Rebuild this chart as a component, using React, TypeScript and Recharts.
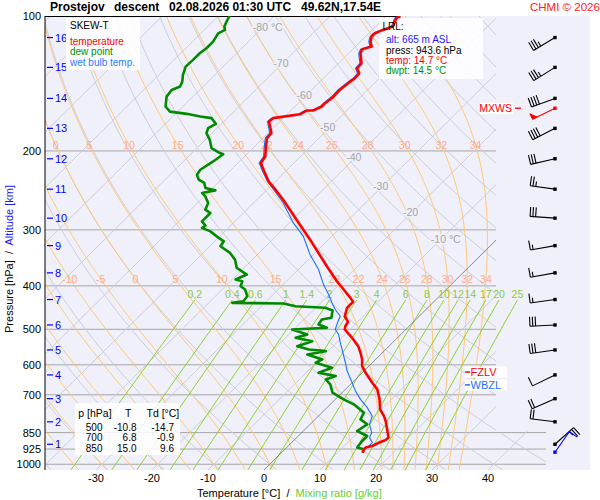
import React from 'react';
import { ComposedChart, Line, Scatter, XAxis, YAxis, CartesianGrid } from 'recharts';

const FONT = '"Liberation Sans", Arial, Helvetica, sans-serif';

// ---------------- sounding data ----------------
const tempP = [100, 101.2, 105.6, 107.4, 109.3, 111.2, 114.1, 117.0, 118.6, 121.1,
  127.5, 130.8, 134.2, 137.6, 141.2, 146.2, 151.3, 156.5, 159.2, 162.5,
  162.5, 165.7, 169.0, 172.0, 182.5, 187.2, 197.1, 205.7, 212.8, 220.3,
  233.9, 244.0, 256.9, 284.7, 315.4, 361.7, 390.6, 407.6, 425.4, 434.2,
  440.2, 447.7, 467.5, 481.1, 492.1, 500.5, 522.2, 545.2, 564.0, 583.7,
  604.1, 624.9, 657.8, 680.8, 698.4, 716.6, 754.3, 780.7, 800.9, 828.5,
  872.1, 884.2, 894.7, 910.4, 917.9, 929.3, 942.7];
const tempT = [-57.5, -57.8, -56.9, -58.1, -58.9, -58.9, -58.2, -57.1, -58.3, -57.9,
  -55.9, -55.8, -54.5, -54.4, -54.7, -55.0, -54.9, -55.2, -55.2, -56.0,
  -57.2, -57.7, -61.8, -61.9, -59.4, -59.3, -57.7, -56.3, -55.9, -54.2,
  -51.2, -48.5, -45.3, -39.3, -33.3, -25.5, -21.0, -18.3, -15.6, -14.4,
  -14.4, -14.4, -13.3, -11.7, -11.4, -10.9, -8.1, -5.5, -3.9, -2.4,
  -1.2, 0.6, 3.6, 5.7, 6.8, 7.9, 9.8, 11.7, 12.9, 14.3,
  16.4, 16.3, 15.6, 15.0, 14.1, 14.1, 14.6];

const wetP = [100, 101.2, 105.6, 107.4, 109.3, 111.2, 114.1, 117.0, 118.6, 121.1,
  127.5, 130.8, 134.2, 137.6, 141.2, 146.2, 151.3, 156.5, 159.2, 162.5,
  162.5, 165.7, 169.0, 172.0, 182.5, 187.2, 197.1, 205.7, 212.8, 220.3,
  233.9, 244.0, 261.3, 289.5, 310.1, 340.7, 367.8, 397.3, 418.2, 436.4,
  451.7, 467.5, 479.6, 500.5, 513.5, 535.8, 559.4, 593.7, 619.4, 652.4,
  686.7, 716.6, 747.7, 780.7, 814.6, 850.0, 872.1, 894.7, 910.4, 926.0, 942.7];
const wetT = [-57.8, -58.1, -57.2, -58.4, -59.2, -59.2, -58.5, -57.4, -58.6, -58.2,
  -56.2, -56.1, -54.8, -54.7, -55.0, -55.3, -55.2, -55.5, -55.5, -56.3,
  -57.5, -58.0, -62.1, -62.2, -59.7, -59.6, -58.0, -56.6, -56.2, -54.5,
  -51.4, -48.8, -44.7, -39.3, -35.1, -30.6, -26.4, -22.8, -20.1, -18.0,
  -16.2, -14.1, -13.6, -12.6, -11.1, -9.3, -7.4, -4.8, -3.0, -0.4,
  2.1, 4.5, 7.2, 9.6, 10.6, 12.5, 13.0, 14.4, 14.4, 14.1, 14.6];

const dewP = [100, 103.0, 105.6, 107.4, 109.3, 114.1, 118.0, 121.1, 125.3, 129.7,
  135.3, 140.1, 143.7, 146.2, 151.3, 159.2, 163.4, 165.3, 167.6, 169.0,
  174.0, 177.9, 182.5, 188.9, 197.1, 202.2, 203.4, 211.1, 220.3, 226.0,
  231.8, 235.8, 241.9, 244.9, 248.2, 252.6, 261.3, 270.5, 275.1, 287.2,
  293.6, 297.0, 302.3, 312.7, 318.2, 326.4, 337.7, 349.5, 364.7, 377.4,
  387.2, 390.6, 400.8, 407.6, 421.9, 432.8, 436.4, 438.0, 444.1, 447.7,
  454.0, 471.3, 475.4, 487.8, 496.1, 500.5, 513.5, 522.2, 531.4, 545.2,
  554.5, 559.4, 568.9, 583.7, 593.7, 609.1, 624.9, 635.9, 646.7, 663.5,
  692.4, 716.6, 735.2, 767.2, 794.0, 814.6, 843.1, 864.9, 887.4, 917.9, 926.0, 942.7];
const dewT = [-88.0, -87.5, -87.0, -86.3, -86.9, -86.3, -86.3, -86.6, -86.6, -86.7,
  -85.7, -84.6, -84.1, -85.0, -84.7, -83.1, -81.4, -78.0, -75.1, -72.8,
  -71.0, -71.6, -71.0, -69.2, -67.4, -65.0, -64.2, -64.7, -65.5, -65.2,
  -64.0, -62.4, -61.3, -59.1, -61.0, -59.8, -58.1, -57.4, -55.9, -55.9,
  -54.5, -54.7, -52.6, -49.9, -48.4, -48.1, -45.2, -43.1, -41.3, -38.3,
  -39.4, -37.9, -37.3, -35.9, -34.3, -34.1, -35.8, -26.5, -23.9, -18.3,
  -16.5, -15.4, -16.8, -16.5, -14.4, -20.3, -16.7, -18.2, -14.6, -16.4,
  -13.7, -10.4, -13.1, -9.5, -10.1, -6.3, -7.8, -4.1, -5.3, -3.6,
  -1.7, 1.5, 4.2, 7.5, 8.1, 10.2, 9.6, 12.3, 12.3, 12.6, 14.1, 14.5];

const pressureTicks = [100, 200, 300, 400, 500, 600, 700, 850, 925, 1000];
const temperatureTicks = [-30, -20, -10, 0, 10, 20, 30, 40];

const altitudeKm = [1, 2, 3, 4, 5, 6, 7, 8, 9, 10, 11, 12, 13, 14, 15, 16];
const altitudeP = [902.5, 804.2, 714.0, 632.0, 555.9, 489.0, 429.1, 374.1, 325.3, 282.5, 243.4, 208.2, 178.1, 152.7, 130.2, 111.7];
const windDir = [48, 277, 246, 244, 262, 267, 262, 260, 260, 274, 278, 257, 243, 250, 238, 239];
const windSpd = [25, 20, 20, 10, 30, 30, 15, 15, 15, 30, 25, 30, 40, 40, 35, 35];
const maxWind = { p: 160.6, dir: 244, spd: 50 };
const surfaceWind = { p: 940, dir: 35, spd: 10 };

const freezingLevelP = 622.7;
const wetBulbZeroP = 665.2;

const isothermLabelT = [-80, -70, -60, -50, -40, -30, -20, -10];
const isothermLabelP = [106, 127, 150, 177, 206, 239, 273, 315];
const moistThetaW = [-35, -30, -25, -20, -15, -10, -5, 0, 5, 10, 15, 20, 22, 24, 26, 28, 30, 32, 34];
const moistLabelLevels = [194, 386];
const mixingRatios = [0.2, 0.4, 0.6, 1, 1.4, 2, 3, 4, 6, 8, 10, 12, 14, 17, 20, 25];

const tableLevels = [500, 700, 850];
const tableT = [-10.8, 6.8, 15.0];
const tableTd = [-14.7, -0.9, 9.6];
const lrlAlt = 665;
const lrlPress = 943.6;
const lrlTemp = 14.7;
const lrlDwpt = 14.5;

// ---------------- diagram geometry ----------------
const SKEW = 80.8;
const P_REF = 1030;
const P_TOP = 100;
const P_BOTTOM = 1030;
const X_MIN = -39.107;
const X_MAX = 58.214;
const X_DIAGRAM = 41.43;
const X_DIAGRAM_LOW = 50.36;
const P_LOW = 850;
const MIX_TOP = 430;
const MIX_LABEL_P = 417;
const BARB_X = 51.96;
const LEVEL_LABEL_X = 35.9;

const PANEL_BG = '#f0f0fa';
const GRID_GRAY = '#cdcdd6';
const MOIST_COL = '#ffc878';
const MIX_COL = '#8fd12e';

const skewX = (T: number, p: number) => T + SKEW * Math.log10(P_REF / p);

const RD = 287.04, CP = 1005.7, LV = 2.501e6, EPS = 0.622;
const satVap = (Tc: number) => 6.112 * Math.exp((17.67 * Tc) / (Tc + 243.5));
function moistRate(Tk: number, p: number) {
  const e = satVap(Tk - 273.15);
  const rs = (EPS * e) / (p - e);
  return (RD * Tk + LV * rs) / (p * (CP + (LV * LV * rs * EPS) / (RD * Tk * Tk)));
}
function moistTemp(thetaW: number, pTarget: number) {
  let T = thetaW + 273.15;
  let p = 1000;
  const n = Math.max(1, Math.ceil(Math.abs(pTarget - p) / 4));
  const h = (pTarget - p) / n;
  for (let i = 0; i < n; i++) {
    const k1 = moistRate(T, p);
    const k2 = moistRate(T + 0.5 * h * k1, p + 0.5 * h);
    const k3 = moistRate(T + 0.5 * h * k2, p + 0.5 * h);
    const k4 = moistRate(T + h * k3, p + h);
    T += (h / 6) * (k1 + 2 * k2 + 2 * k3 + k4);
    p += h;
  }
  return T - 273.15;
}
const dryTemp = (theta: number, p: number) => (theta + 273.15) * Math.pow(p / 1000, RD / CP) - 273.15;
const mixDew = (r: number, p: number) => {
  const w = r / 1000;
  const e = (w * p) / (EPS + w);
  const l = Math.log(e / 6.112);
  return (243.5 * l) / (17.67 - l);
};

const N = 150;
const P_GRID = Array.from({ length: N + 1 }, (_, i) => P_TOP * Math.pow(P_BOTTOM / P_TOP, i / N));

type Pt = { x: number; p: number | null };
const limitAt = (p: number) => (p >= P_LOW ? X_DIAGRAM_LOW : X_DIAGRAM);
function clipRight(raw: { x: number; p: number }[]): Pt[] {
  const out: Pt[] = [];
  for (let i = 0; i < raw.length; i++) {
    const c = raw[i];
    const inC = c.x <= limitAt(c.p);
    if (i > 0) {
      const a = raw[i - 1];
      const inA = a.x <= limitAt(a.p);
      if (inA !== inC) {
        const L = limitAt(inA ? a.p : c.p);
        const d = c.x - a.x;
        let t = d === 0 ? 0.5 : (L - a.x) / d;
        t = Math.max(0, Math.min(1, t));
        out.push({ x: a.x + t * d, p: a.p + t * (c.p - a.p) });
      }
    }
    out.push(inC ? { x: c.x, p: c.p } : { x: c.x, p: null });
  }
  return out;
}
const curve = (f: (p: number) => number) => clipRight(P_GRID.map((p) => ({ x: skewX(f(p), p), p })));

const isothermValues: number[] = [];
for (let t = -120; t <= 40; t += 10) if (t !== 0) isothermValues.push(t);
const isothermLines = isothermValues.map((t) => curve(() => t));
const zeroIsotherm = curve(() => 0);
const dryValues: number[] = [];
for (let th = -40; th <= 190; th += 10) dryValues.push(th);
const dryLines = dryValues.map((th) => curve((p) => dryTemp(th, p)));
const moistLines = moistThetaW.map((tw) => curve((p) => moistTemp(tw, p)));
const mixLines = mixingRatios.map((r) =>
  Array.from({ length: 31 }, (_, i) => {
    const p = MIX_TOP * Math.pow(P_BOTTOM / MIX_TOP, i / 30);
    return { x: skewX(mixDew(r, p), p), p };
  })
);

const gridLines = pressureTicks
  .filter((p) => p > P_TOP)
  .map((p) => [
    { x: X_MIN, p },
    { x: p >= P_LOW ? X_DIAGRAM_LOW : X_DIAGRAM, p },
  ]);
const topBorder = [
  { x: X_MIN, p: P_TOP },
  { x: skewX(tempT[0], tempP[0]), p: P_TOP },
];

const profile = (ps: number[], ts: number[]) => ps.map((p, i) => ({ x: skewX(ts[i], p), p }));
const tempLine = profile(tempP, tempT);
const dewLine = profile(dewP, dewT);
const wetLine = profile(wetP, wetT);

const isothermLabels = isothermLabelT.map((t, i) => ({
  x: skewX(t, isothermLabelP[i]),
  p: isothermLabelP[i],
  label: i === 0 || i === isothermLabelT.length - 1 ? `${t} °C` : `${t}`,
}));
const moistLabels: { x: number; p: number; label: string }[] = [];
moistLabelLevels.forEach((lp) => {
  moistThetaW.forEach((tw) => {
    const x = skewX(moistTemp(tw, lp), lp);
    if (x >= X_MIN + 0.3 && x <= X_DIAGRAM - 0.3) moistLabels.push({ x, p: lp, label: `${tw}` });
  });
});
const mixLabels = mixingRatios.map((r) => ({ x: skewX(mixDew(r, MIX_TOP), MIX_TOP), p: MIX_LABEL_P, label: `${r}` }));
const altitudeTicks = altitudeKm.map((k, i) => ({ x: X_MIN, p: altitudeP[i], label: `${k}` }));
const barbs = [
  ...altitudeP.map((p, i) => ({ x: BARB_X, p, dir: windDir[i], spd: windSpd[i], color: '#000', tag: '' })),
  { x: BARB_X, p: maxWind.p, dir: maxWind.dir, spd: maxWind.spd, color: '#ff0000', tag: 'MXWS' },
  { x: BARB_X, p: surfaceWind.p, dir: surfaceWind.dir, spd: surfaceWind.spd, color: '#0000ff', tag: '' },
];
const levelLabels = [
  { x: LEVEL_LABEL_X, p: freezingLevelP, label: 'FZLV', color: '#ff0000' },
  { x: LEVEL_LABEL_X, p: wetBulbZeroP, label: 'WBZL', color: '#1e6fff' },
];

// ---------------- shapes ----------------
const IsoLabel = (props: any) => {
  const { cx, cy, payload } = props;
  if (cx == null) return null;
  return (
    <text x={cx - 10} y={cy} dominantBaseline="central" fontSize={10.5} fontFamily={FONT} fill="#a4a4a4"
      stroke={PANEL_BG} strokeWidth={3} paintOrder="stroke">
      {payload.label}
    </text>
  );
};
const MoistLabel = (props: any) => {
  const { cx, cy, payload } = props;
  if (cx == null) return null;
  return (
    <text x={cx} y={cy} textAnchor="middle" dominantBaseline="central" fontSize={10.5} fontFamily={FONT} fill="#ffab8a">
      {payload.label}
    </text>
  );
};
const MixLabel = (props: any) => {
  const { cx, cy, payload } = props;
  if (cx == null) return null;
  return (
    <text x={cx} y={cy} textAnchor="middle" dominantBaseline="central" fontSize={10.5} fontFamily={FONT} fill="#88cc3a">
      {payload.label}
    </text>
  );
};
const AltTick = (props: any) => {
  const { cx, cy, payload } = props;
  if (cx == null) return null;
  return (
    <g>
      <line x1={cx + 2} x2={cx + 8} y1={cy} y2={cy} stroke="#0000ff" strokeWidth={1.2} />
      <text x={cx + 10} y={cy} dominantBaseline="central" fontSize={11} fontFamily={FONT} fill="#0000ff">
        {payload.label}
      </text>
    </g>
  );
};
const LevelLabel = (props: any) => {
  const { cx, cy, payload } = props;
  if (cx == null) return null;
  return (
    <g>
      <rect x={cx} y={cy - 5.5} width={42} height={11} fill="#ffffff" />
      <line x1={cx} x2={cx + 5} y1={cy} y2={cy} stroke={payload.color} strokeWidth={1.5} />
      <text x={cx + 5.5} y={cy} dominantBaseline="central" fontSize={11} fontFamily={FONT} fill={payload.color}>
        {payload.label}
      </text>
    </g>
  );
};
const WindBarb = (props: any) => {
  const { cx, cy, payload } = props;
  if (cx == null) return null;
  const color = payload.color;
  const a = (payload.dir * Math.PI) / 180;
  const ux = Math.sin(a), uy = -Math.cos(a);
  const nx = -uy, ny = ux;
  const L = 25;
  const ex = cx + L * ux, ey = cy + L * uy;
  const parts: any[] = [];
  if (payload.tag === 'MXWS') {
    parts.push(<rect key="bg" x={cx - 75} y={cy - 5.5} width={33} height={11} fill="#ffffff" />);
    parts.push(
      <text key="mx" x={cx - 43} y={cy} textAnchor="end" dominantBaseline="central" fontSize={10.5} fontFamily={FONT} fill={color}>
        MXWS
      </text>
    );
    parts.push(<line key="mxl" x1={cx - 40} x2={cx - 34} y1={cy} y2={cy} stroke={color} strokeWidth={1.3} />);
  }
  parts.push(<line key="s" x1={cx} y1={cy} x2={ex} y2={ey} stroke={color} strokeWidth={1.1} />);
  parts.push(<rect key="d" x={cx - 1.7} y={cy - 1.7} width={3.4} height={3.4} fill={color} />);
  let s = payload.spd;
  let pos = 0;
  let k = 0;
  while (s >= 50) {
    const bx = ex - pos * ux, by = ey - pos * uy;
    const qx = ex - (pos + 5) * ux, qy = ey - (pos + 5) * uy;
    parts.push(<polygon key={'p' + k++} points={`${bx},${by} ${bx + 6 * nx},${by + 6 * ny} ${qx},${qy}`} fill={color} stroke={color} />);
    pos += 6;
    s -= 50;
  }
  while (s >= 10) {
    const bx = ex - pos * ux, by = ey - pos * uy;
    parts.push(<line key={'f' + k++} x1={bx} y1={by} x2={bx + 9.5 * nx} y2={by + 9.5 * ny} stroke={color} strokeWidth={1.1} />);
    pos += 2.8;
    s -= 10;
  }
  if (s >= 5) {
    if (pos === 0) pos = 2.8;
    const bx = ex - pos * ux, by = ey - pos * uy;
    parts.push(<line key={'h' + k++} x1={bx} y1={by} x2={bx + 5 * nx} y2={by + 5 * ny} stroke={color} strokeWidth={1.1} />);
  }
  return <g>{parts}</g>;
};

const lineProps = { dot: false, activeDot: false, isAnimationActive: false, dataKey: 'p', type: 'linear' as const, legendType: 'none' as const };

const txt = (left: number, top: number, text: string, color: string, extra: any = {}) => (
  <div style={{ position: 'absolute', left, top, fontSize: 10, lineHeight: '10px', color, whiteSpace: 'pre', ...extra }}>{text}</div>
);

const CHART_MARGIN = { top: 16, right: 10, bottom: 0, left: 0 };

function Axes({ visible }: { visible: boolean }) {
  return null;
}

const layer: any = { position: 'absolute', left: 0, top: 0 };

export default function App() {
  const xAxis = (visible: boolean) => (
    <XAxis type="number" dataKey="x" domain={[X_MIN, X_MAX]} allowDataOverflow ticks={temperatureTicks} interval={0}
      axisLine={false} tickLine={false} tickSize={0} tickMargin={4} height={30}
      tick={visible ? { fill: '#000', fontSize: 11, fontFamily: FONT } : false} />
  );
  const yAxis = (visible: boolean) => (
    <YAxis type="number" dataKey="p" scale="log" domain={[P_TOP, P_BOTTOM]} reversed allowDataOverflow ticks={pressureTicks}
      interval={0} width={45} axisLine={visible ? { stroke: '#000', strokeWidth: 1 } : false} tickLine={false} tickSize={0} tickMargin={4}
      tick={visible ? { fill: '#000', fontSize: 11, fontFamily: FONT } : false} />
  );
  return (
    <div style={{ position: 'absolute', left: 0, top: 0, width: 600, height: 500, background: '#fff', fontFamily: FONT, overflow: 'hidden' }}>
      {/* background diagram */}
      <div style={layer}>
        <ComposedChart width={600} height={500} margin={CHART_MARGIN}>
          <CartesianGrid fill={PANEL_BG} stroke="none" horizontal={false} vertical={false} />
          {xAxis(true)}
          {yAxis(true)}
          {gridLines.map((d, i) => (
            <Line key={'g' + i} {...lineProps} data={d} stroke="#a6a6a6" strokeWidth={1} />
          ))}
          {isothermLines.map((d, i) => (
            <Line key={'it' + i} {...lineProps} data={d} stroke={GRID_GRAY} strokeWidth={1} />
          ))}
          {dryLines.map((d, i) => (
            <Line key={'da' + i} {...lineProps} data={d} stroke={GRID_GRAY} strokeWidth={1} />
          ))}
          {moistLines.map((d, i) => (
            <Line key={'ma' + i} {...lineProps} data={d} stroke={MOIST_COL} strokeWidth={1} />
          ))}
          {mixLines.map((d, i) => (
            <Line key={'mr' + i} {...lineProps} data={d} stroke={MIX_COL} strokeWidth={1} />
          ))}
          <Line {...lineProps} data={zeroIsotherm} stroke="#6e6e6e" strokeWidth={0.8} />
          <Line {...lineProps} data={topBorder} stroke="#000" strokeWidth={2} />
          <Scatter data={isothermLabels} dataKey="p" shape={IsoLabel} isAnimationActive={false} legendType="none" />
          <Scatter data={moistLabels} dataKey="p" shape={MoistLabel} isAnimationActive={false} legendType="none" />
          <Scatter data={mixLabels} dataKey="p" shape={MixLabel} isAnimationActive={false} legendType="none" />
          <Scatter data={altitudeTicks} dataKey="p" shape={AltTick} isAnimationActive={false} legendType="none" />
        </ComposedChart>
      </div>

      {/* boxes under the profiles */}
      <div style={{ position: 'absolute', left: 66, top: 18, width: 74, height: 52, background: 'rgba(255,255,255,0.85)' }} />
      <div style={{ position: 'absolute', left: 379, top: 18, width: 104, height: 61, background: 'rgba(255,255,255,0.85)' }} />
      <div style={{ position: 'absolute', left: 75, top: 403, width: 105, height: 52, background: 'rgba(255,255,255,0.85)' }} />

      {/* profiles, levels and winds */}
      <div style={layer}>
        <ComposedChart width={600} height={500} margin={CHART_MARGIN}>
          {xAxis(false)}
          {yAxis(false)}
          <Line {...lineProps} data={wetLine} stroke="#1e6fff" strokeWidth={1.1} />
          <Line {...lineProps} data={dewLine} stroke="#008a00" strokeWidth={2.6} strokeLinejoin="round" />
          <Line {...lineProps} data={tempLine} stroke="#ff0000" strokeWidth={2.6} strokeLinejoin="round" />
          <Scatter data={levelLabels} dataKey="p" shape={LevelLabel} isAnimationActive={false} legendType="none" />
          <Scatter data={barbs} dataKey="p" shape={WindBarb} isAnimationActive={false} legendType="none" />
        </ComposedChart>
      </div>

      {/* title */}
      <div style={{ position: 'absolute', left: 50, top: 0, fontSize: 12, fontWeight: 'bold', lineHeight: '15px', whiteSpace: 'pre' }}>Prostejov</div>
      <div style={{ position: 'absolute', left: 114, top: 0, fontSize: 12, fontWeight: 'bold', lineHeight: '15px', whiteSpace: 'pre' }}>descent</div>
      <div style={{ position: 'absolute', left: 169, top: 0, fontSize: 12, fontWeight: 'bold', lineHeight: '15px', whiteSpace: 'pre' }}>02.08.2026 01:30 UTC</div>
      <div style={{ position: 'absolute', left: 301, top: 0, fontSize: 12, fontWeight: 'bold', lineHeight: '15px', whiteSpace: 'pre' }}>49.62N,17.54E</div>
      <div style={{ position: 'absolute', left: 530, top: 0, fontSize: 11.5, lineHeight: '15px', color: '#ff2020', whiteSpace: 'pre' }}>CHMI © 2026</div>

      {/* legend text */}
      {txt(70, 21, 'SKEW-T', '#000')}
      {txt(70, 36.8, 'temperature', '#ff0000')}
      {txt(70, 47.2, 'dew point', '#009000')}
      {txt(70, 57.6, 'wet bulb temp.', '#2a7bff')}

      {/* LRL text */}
      {txt(382.5, 22, 'LRL:', '#000')}
      {txt(386, 35, `alt: ${lrlAlt} m ASL`, '#1a1aff')}
      {txt(386, 45.5, `press: ${lrlPress.toFixed(1)} hPa`, '#000')}
      {txt(386, 55.8, `temp: ${lrlTemp.toFixed(1)} °C`, '#ff0000')}
      {txt(386, 66.1, `dwpt: ${lrlDwpt.toFixed(1)} °C`, '#009000')}

      {/* table text */}
      {txt(78.3, 408, 'p [hPa]', '#000', { fontSize: 10.5 })}
      {txt(125, 408, 'T', '#000', { fontSize: 10.5 })}
      {txt(146.5, 408, 'Td [°C]', '#000', { fontSize: 10.5 })}
      {tableLevels.map((lv, i) => (
        <React.Fragment key={'row' + i}>
          {txt(62.5, 422.8 + i * 10.4, `${lv}`, '#000', { width: 40, textAlign: 'right' })}
          {txt(96.5, 422.8 + i * 10.4, tableT[i].toFixed(1), '#000', { width: 40, textAlign: 'right' })}
          {txt(134, 422.8 + i * 10.4, tableTd[i].toFixed(1), '#000', { width: 40, textAlign: 'right' })}
        </React.Fragment>
      ))}

      {/* axis titles */}
      <div style={{ position: 'absolute', left: 197, top: 486, fontSize: 11, lineHeight: '14px', whiteSpace: 'pre' }}>
        <span style={{ color: '#000' }}>Temperature [°C]  /  </span>
        <span style={{ color: '#66cc33' }}>Mixing ratio [g/kg]</span>
      </div>
      <div style={{ position: 'absolute', left: 9, top: 259, fontSize: 11, lineHeight: '14px', whiteSpace: 'pre', transform: 'translate(-50%, -50%) rotate(-90deg)' }}>
        <span style={{ color: '#000' }}>Pressure [hPa]  /  </span>
        <span style={{ color: '#1a1aff' }}>Altitude [km]</span>
      </div>
    </div>
  );
}
